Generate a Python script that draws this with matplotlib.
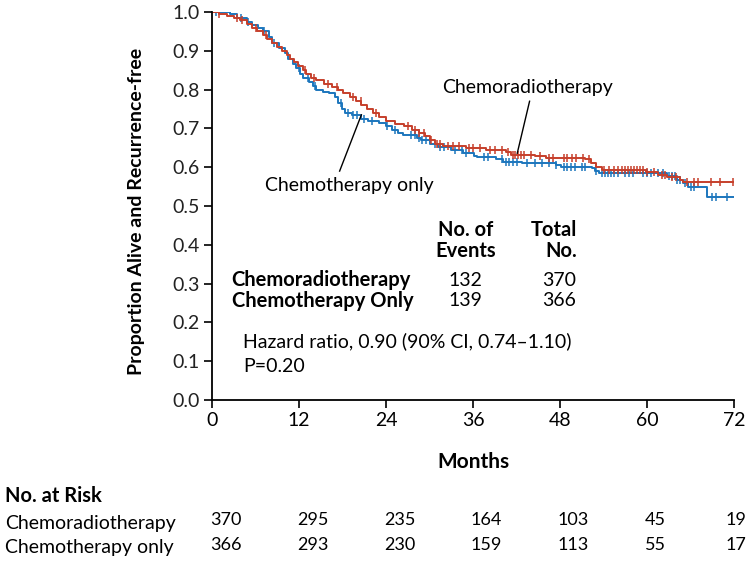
import numpy as np
import matplotlib
matplotlib.use("Agg")
import matplotlib.pyplot as plt

plt.rcParams['font.family'] = ['Lato', 'DejaVu Sans']

red = '#c63f2b'
blue = '#1c76bd'

# step times (months) and survival after each step
crt_t = [0, 1.0, 2.0, 3.0, 3.8, 4.8, 5.5, 6.2, 7.0, 7.6, 8.3, 9.0, 9.6, 10.3, 10.8, 11.3, 11.9,
         12.5, 13.0, 13.6, 14.4, 15.5, 16.6, 17.4, 18.0, 19.0, 19.8, 20.6, 21.4, 22.2, 23.0,
         24.0, 25.3, 26.5, 27.6, 28.6, 29.4, 30.0, 30.8, 31.8, 35.0, 37.8, 40.5, 41.3, 44.5,
         46.0, 51.5, 52.3, 53.0, 53.8, 59.8, 61.5, 62.8, 64.5, 65.0]
crt_s = [1.0, 0.995, 0.99, 0.985, 0.98, 0.97, 0.96, 0.95, 0.94, 0.93, 0.92, 0.91, 0.90, 0.89, 0.88, 0.87, 0.86,
         0.85, 0.84, 0.83, 0.825, 0.815, 0.807, 0.80, 0.79, 0.78, 0.77, 0.76, 0.75, 0.74, 0.73,
         0.72, 0.712, 0.705, 0.696, 0.688, 0.68, 0.67, 0.66, 0.655, 0.65, 0.645, 0.64, 0.632, 0.628,
         0.624, 0.62, 0.61, 0.60, 0.594, 0.588, 0.58, 0.575, 0.568, 0.562]
ct_t = [0, 2.5, 3.5, 4.8, 5.5, 6.3, 7.0, 7.8, 8.3, 9.2, 10.0, 10.5, 11.1, 11.6, 12.2, 12.6, 13.4,
        13.9, 14.3, 15.3, 16.2, 17.0, 17.4, 17.9, 18.4, 19.3, 20.5, 21.5, 23.0, 24.0, 24.8,
        25.6, 26.3, 28.3, 28.8, 30.0, 31.2, 33.0, 34.6, 36.2, 36.6, 39.2, 40.2, 42.8, 47.5,
        48.2, 52.4, 52.8, 53.4, 62.8, 64.2, 65.0, 65.6, 68.3]
ct_s = [1.0, 0.995, 0.985, 0.975, 0.967, 0.958, 0.95, 0.935, 0.92, 0.907, 0.895, 0.88, 0.865, 0.856, 0.84, 0.83, 0.82,
        0.81, 0.80, 0.795, 0.79, 0.78, 0.765, 0.75, 0.74, 0.735, 0.725, 0.72, 0.714, 0.705, 0.696,
        0.688, 0.683, 0.676, 0.67, 0.66, 0.652, 0.644, 0.637, 0.63, 0.626, 0.62, 0.613, 0.611, 0.605,
        0.60, 0.598, 0.59, 0.585, 0.578, 0.568, 0.559, 0.549, 0.523]

crt_cens = [1.0, 3.5, 4.2, 6.0, 7.5, 12.8, 14.0, 16.0, 17.2, 19.5, 20.5, 22.6, 27.0, 28.0, 28.6, 29.2,
            30.2, 31.0, 31.5, 32.5, 33.3, 34.0, 35.5, 36.0, 37.0, 38.3, 39.0, 40.0, 40.8, 41.5, 41.8,
            42.2, 42.6, 43.0, 44.0, 45.2, 46.5, 47.0, 48.5, 49.0, 49.6, 50.2, 51.2, 52.0, 54.0, 54.8,
            55.5, 56.0, 56.5, 57.0, 57.4, 57.8, 58.2, 58.6, 59.0, 59.4, 60.0, 61.0, 62.0, 62.5, 63.5,
            64.0, 65.5, 66.5, 67.0, 68.8, 70.0, 71.8]
ct_cens = [0.5, 4.0, 5.0, 7.2, 8.5, 12.0, 13.2, 14.2, 17.8, 18.8, 19.5, 20.0, 21.0, 22.0, 24.2, 25.2,
           27.5, 28.0, 28.5, 29.0, 29.5, 30.8, 31.5, 32.0, 33.5, 34.5, 35.0, 37.5, 38.0, 40.0, 40.5,
           41.0, 41.5, 42.0, 43.5, 44.5, 45.5, 46.5, 47.5, 48.5, 49.0, 49.5, 50.0, 51.0, 51.5, 53.0,
           53.8, 54.2, 54.6, 55.0, 55.4, 56.0, 57.0, 57.5, 58.0, 59.5, 60.0, 60.5, 61.5, 62.2, 63.0,
           63.4, 63.8, 64.2, 64.6, 65.2, 66.0, 66.5, 69.0, 69.5, 71.0]

risk_times = [0, 12, 24, 36, 48, 60, 72]
risk_crt = [370, 295, 235, 164, 103, 45, 19]
risk_ct = [366, 293, 230, 159, 113, 55, 17]

fig = plt.figure(figsize=(7.5, 5.62), dpi=100)
ax = fig.add_axes([0.2827, 0.2883, 0.696, 0.6903])


def km(t, s, cens, color):
    tt = list(t) + [72]
    ss = list(s) + [s[-1]]
    ax.step(tt, ss, where='post', color=color, lw=1.4)
    idx = np.searchsorted(t, cens, side='right') - 1
    ax.plot(cens, np.array(s)[idx], ls='none', marker='|', ms=6, mew=1.1, color=color)


km(ct_t, ct_s, ct_cens, blue)
km(crt_t, crt_s, crt_cens, red)

ax.set_xlim(0, 72)
ax.set_ylim(0, 1.0)
ax.set_xticks(risk_times)
ax.set_yticks(np.arange(0, 1.01, 0.1))
ax.set_yticklabels([f"{v:.1f}" for v in np.arange(0, 1.01, 0.1)])
ax.spines['top'].set_visible(False)
ax.spines['right'].set_visible(False)
ax.spines['left'].set_linewidth(1.3)
ax.spines['bottom'].set_linewidth(1.3)
ax.tick_params(labelsize=14, width=1.2, length=6, direction='out', pad=3)
ax.set_ylabel("Proportion Alive and Recurrence-free", fontsize=14, fontweight='bold')
ax.yaxis.set_label_coords(-0.128, 0.485)
ax.set_xlabel("Months", fontsize=15, fontweight='bold', labelpad=16)
for lab in ax.get_yticklabels():
    lab.set_color('#222222')

# curve labels
ax.text(43.5, 0.806, "Chemoradiotherapy", fontsize=14, ha='center', va='center')
ax.plot([43.8, 42.1], [0.77, 0.636], color='black', lw=1)
ax.text(19.0, 0.553, "Chemotherapy only", fontsize=14, ha='center', va='center')
ax.plot([17.6, 20.6], [0.59, 0.735], color='black', lw=1)

# events table
ax.text(35.0, 0.412, "No. of\nEvents", fontsize=14.5, fontweight='bold', ha='center', va='center', linespacing=1.05)
ax.text(50.4, 0.412, "Total\nNo.", fontsize=14.5, fontweight='bold', ha='right', va='center', linespacing=1.05)
ax.text(2.7, 0.308, "Chemoradiotherapy", fontsize=14.5, fontweight='bold', va='center')
ax.text(2.7, 0.256, "Chemotherapy Only", fontsize=14.5, fontweight='bold', va='center')
ax.text(35.0, 0.308, "132", fontsize=14, ha='center', va='center')
ax.text(35.0, 0.256, "139", fontsize=14, ha='center', va='center')
ax.text(50.2, 0.308, "370", fontsize=14, ha='right', va='center')
ax.text(50.2, 0.256, "366", fontsize=14, ha='right', va='center')
ax.text(4.3, 0.12, "Hazard ratio, 0.90 (90% CI, 0.74\u20131.10)\nP=0.20", fontsize=14,
        va='center', linespacing=1.6)

# number at risk
fig.text(0.007, 0.117, "No. at Risk", fontsize=14.5, fontweight='bold', va='center')
fig.text(0.007, 0.069, "Chemoradiotherapy", fontsize=14, va='center')
fig.text(0.007, 0.025, "Chemotherapy only", fontsize=14, va='center')
for t, a, b in zip(risk_times, risk_crt, risk_ct):
    ha = 'left' if t < 72 else 'center'
    x = t - 0.3 if t < 72 else t + 0.3
    ax.text(x, -0.31, str(a), fontsize=13, ha=ha, va='center', clip_on=False)
    ax.text(x, -0.375, str(b), fontsize=13, ha=ha, va='center', clip_on=False)

fig.savefig("out.png", dpi=100)
